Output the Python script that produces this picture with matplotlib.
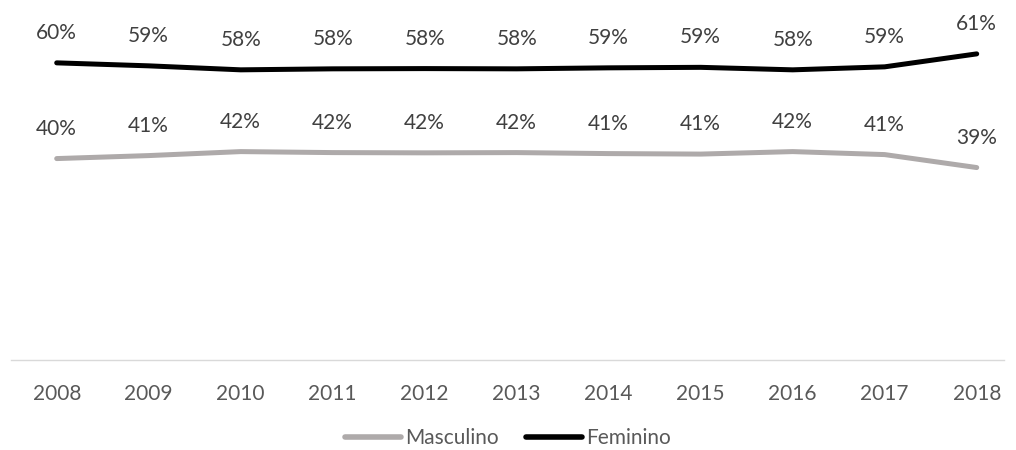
import matplotlib
matplotlib.use("Agg")
import matplotlib.pyplot as plt

years = [2008, 2009, 2010, 2011, 2012, 2013, 2014, 2015, 2016, 2017, 2018]
feminino = [59.6, 59.0, 58.2, 58.4, 58.45, 58.4, 58.6, 58.7, 58.2, 58.8, 61.4]
masculino = [40.4, 41.0, 41.8, 41.6, 41.55, 41.6, 41.4, 41.3, 41.8, 41.2, 38.6]

plt.rcParams['font.family'] = ['Lato', 'DejaVu Sans']

fig = plt.figure(figsize=(10.16, 4.5), dpi=100)
ax = fig.add_axes([10.7 / 1016, 90 / 450, 1012 / 1016, 349 / 450])

ax.plot(years, masculino, color='#AEAAAA', lw=3.6, solid_capstyle='round',
        solid_joinstyle='round', label='Masculino')
ax.plot(years, feminino, color='black', lw=3.6, solid_capstyle='round',
        solid_joinstyle='round', label='Feminino')

# value labels above each point
for serie in (masculino, feminino):
    for x, v in zip(years, serie):
        ax.annotate(f"{round(v):d}%", (x, v), xytext=(0, 30),
                    textcoords='offset pixels', ha='center', va='center',
                    fontsize=15, color='#404040')

ax.set_xlim(2007.5, 2018.5)
ax.set_ylim(0, 70)
ax.set_xticks(years)
ax.set_xticklabels([str(y) for y in years])
ax.set_yticks([])
ax.tick_params(axis='x', length=0, pad=17.5, labelsize=15, labelcolor='#595959')

for s in ('top', 'right', 'left'):
    ax.spines[s].set_visible(False)
ax.spines['bottom'].set_color('#D9D9D9')
ax.spines['bottom'].set_linewidth(1.0)
ax.spines['bottom'].set_bounds(2007.5, 2018.3)

leg = fig.legend(loc='center', bbox_to_anchor=(0.5, 1 - 438 / 450), ncol=2,
                 frameon=False, fontsize=15, labelcolor='#595959',
                 handlelength=2.7, handletextpad=0.2, columnspacing=1.3)
for h in leg.get_lines():
    h.set_linewidth(4)

fig.savefig('out.png', dpi=100)
